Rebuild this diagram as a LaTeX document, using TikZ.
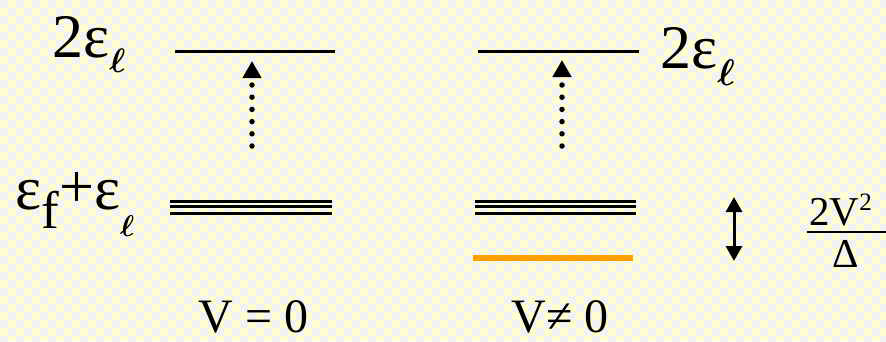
\documentclass[tikz,border=0pt]{standalone}
\usepackage{graphicx}
\usepackage{fontspec}
\setmainfont{Liberation Serif}
\usetikzlibrary{arrows.meta}
\definecolor{bgyellow}{RGB}{255,255,208}
\definecolor{bggrey}{RGB}{242,242,242}
\definecolor{lvlorange}{RGB}{255,160,0}
\tikzset{every picture/.style={line width=0.75pt}}
\newcommand{\bigsz}{\fontsize{62}{62}\selectfont}
\newcommand{\lowsub}[2]{\raisebox{-#1}{\scalebox{#2}{\normalsize\boldmath$\ell$}}}

\begin{document}
\begin{tikzpicture}[x=1pt,y=-1pt,
    level/.style={line width=3pt},
    sublevel/.style={line width=3pt},
    lbl/.style={inner sep=0pt,anchor=base west},
    excite/.style={line width=5.5pt,line cap=round,dash pattern=on 0pt off 12.2pt,
        -{Triangle[width=18pt,length=17pt]}},
    split/.style={line width=3pt,
        {Triangle[width=16pt,length=15pt]}-{Triangle[width=16pt,length=15pt]}}]
    \useasboundingbox (0,0) rectangle (886,341);

    % 背景（格子）
    \begin{scope}
        \clip (0,0) rectangle (886,341);
        \fill[bgyellow] (0,0) rectangle (886,341);
        \fill[bggrey] \foreach \j in {0,...,42} {\foreach \i in {0,...,55} {
            ({(2*\i+mod(\j,2))*8},{\j*8}) rectangle ++(8,8)}};
    \end{scope}

    % 左边：V = 0
    \draw[level] (175,51) -- (335,51);
    \draw[sublevel] (170,201) -- (332,201);
    \draw[sublevel] (170,206.5) -- (332,206.5);
    \draw[sublevel] (170,213) -- (332,213);
    \coordinate (lowL) at (252,146);
    \coordinate (topL) at (252,61);
    \draw[excite] (lowL) -- (topL);

    % 右边：V ≠ 0
    \draw[level] (478,51) -- (639,51);
    \draw[sublevel] (475,201) -- (636,201);
    \draw[sublevel] (475,206.5) -- (636,206.5);
    \draw[sublevel] (475,213) -- (636,213);
    \draw[line width=6pt, lvlorange] (473,258) -- (633,258);
    \coordinate (lowR) at (562,146);
    \coordinate (topR) at (562,60);
    \draw[excite] (lowR) -- (topR);

    % 能级劈裂
    \coordinate (splitTop) at (734,197);
    \coordinate (splitBot) at (734,261);
    \draw[split] (splitTop) -- (splitBot);

    % 标签
    \node[lbl] (twoL) at (52,57) {\bigsz 2ε\lowsub{15pt}{3.4}};
    \node[lbl] (twoR) at (660,68) {\bigsz 2ε\lowsub{17pt}{3.7}};
    \node[lbl] (sumL) at (15,209) {\bigsz ε\raisebox{-19pt}{\fontsize{53}{53}\selectfont f}\raisebox{2pt}{+}ε\lowsub{27pt}{3.0}};
    \node[lbl,text depth=0pt] (vzero) at (198,332) {\fontsize{48}{48}\selectfont V = 0};
    \node[lbl,text depth=0pt] (vnonzero) at (511,332) {\fontsize{48}{48}\selectfont V≠ 0};

    % 劈裂大小
    \node[lbl] (numer) at (809,225) {\fontsize{41}{41}\selectfont 2V\raisebox{15pt}{\fontsize{25}{25}\selectfont 2}};
    \draw[line width=2.5pt] (807,232) -- (886,232);
    \node[inner sep=0pt,anchor=base,text depth=0pt] (denom) at (846,267) {\fontsize{41}{41}\selectfont Δ};
\end{tikzpicture}
\end{document}
